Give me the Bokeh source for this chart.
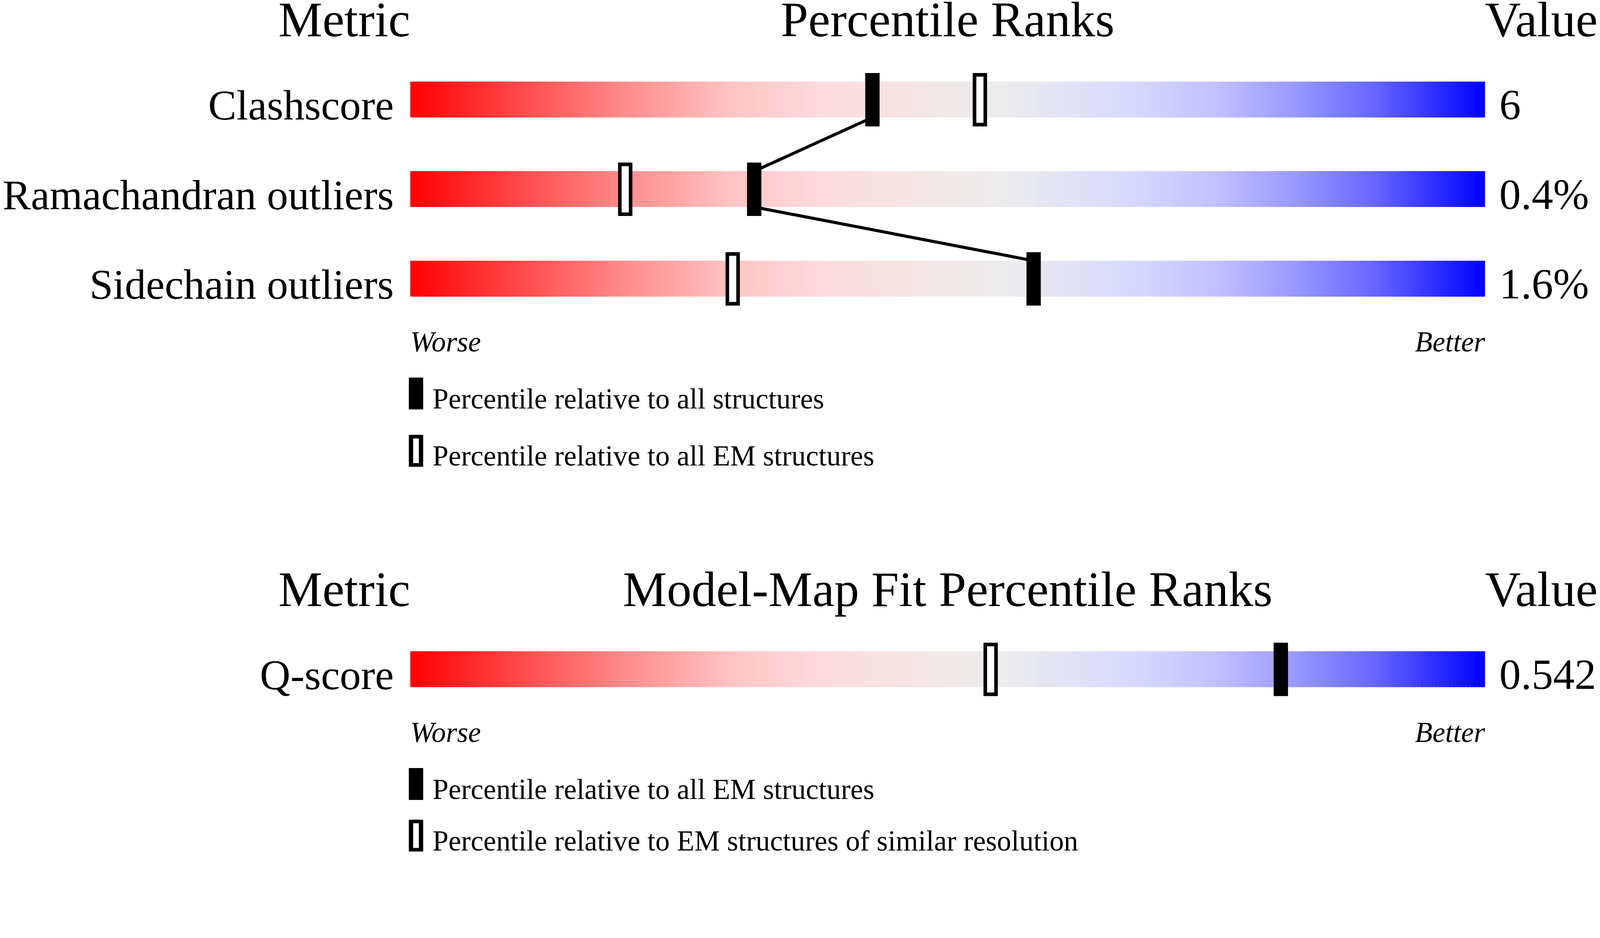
import numpy as np
from bokeh.plotting import figure
from bokeh.models import Range1d
from bokeh.core.properties import value
from bokeh.embed import file_html
from bokeh.resources import INLINE

# --- data -------------------------------------------------------------
metrics_geom = ["Clashscore", "Ramachandran outliers", "Sidechain outliers"]
values_geom = ["6", "0.4%", "1.6%"]
pct_all = [43, 32, 58]          # percentile vs all structures (filled)
pct_all_em = [53, 20, 30]       # percentile vs all EM structures (open)

metrics_fit = ["Q-score"]
values_fit = ["0.542"]
pct_fit_all_em = [81]           # percentile vs all EM structures (filled)
pct_fit_similar = [54]          # percentile vs EM structures of similar resolution (open)

titles = ["Percentile Ranks", "Model-Map Fit Percentile Ranks"]
legend_geom = ["Percentile relative to all structures",
               "Percentile relative to all EM structures"]
legend_fit = ["Percentile relative to all EM structures",
              "Percentile relative to EM structures of similar resolution"]

# --- layout (lengths below are in screenshot pixels) ------------------
S = 1.09                 # screenshot pixels per CSS pixel
W = int(4485 / S) - 16
H = int(2402 / S) - 16
PX = 29.99               # screenshot pixels per percentile point
XB = 1153                # screenshot x of the 0th percentile
FONT = value("Liberation Serif")
BASE_FIX = 0.3           # bokeh draws the alphabetic baseline a bit low

STOPS = [(0.00, (255, 0, 0)), (0.10, (255, 72, 72)), (0.20, (255, 140, 140)),
         (0.30, (255, 196, 196)), (0.38, (254, 218, 220)), (0.48, (244, 230, 230)),
         (0.55, (236, 236, 236)), (0.62, (225, 225, 248)), (0.68, (214, 214, 255)),
         (0.75, (192, 192, 255)), (0.82, (155, 155, 255)), (0.90, (100, 100, 255)),
         (1.00, (0, 0, 255))]


def grad(f):
    for (f0, c0), (f1, c1) in zip(STOPS, STOPS[1:]):
        if f <= f1:
            t = (f - f0) / (f1 - f0)
            return "#%02x%02x%02x" % tuple(int(round(a + (b - a) * t)) for a, b in zip(c0, c1))
    return "#0000ff"


x_start = (8 * S - XB) / PX
x_end = ((W + 8) * S - XB) / PX
p = figure(width=W, height=H, x_range=Range1d(x_start, x_end),
           y_range=Range1d((H + 8) * S, 8 * S), output_backend="svg",
           toolbar_location=None, min_border=0)
p.axis.visible = False
p.grid.visible = False
p.outline_line_color = None


def txt(x, y, s, size, align="left", style="normal"):
    p.text(x=[x], y=[y - BASE_FIX * size], text=[s], text_font=FONT,
           text_font_size=value("%.1fpx" % (size / S)),
           text_align=align, text_baseline="alphabetic", text_font_style=style,
           text_color="black")


def legend_key(y_top, hollow):
    lx0, lx1 = -4 / PX, 36 / PX
    p.quad(left=[lx0], right=[lx1], top=[y_top], bottom=[y_top + 89],
           fill_color="black", line_color=None)
    if hollow:
        p.quad(left=[lx0 + 12 / PX], right=[lx1 - 12 / PX], top=[y_top + 10],
               bottom=[y_top + 79], fill_color="white", line_color=None)


def panel(top, title, metrics, vals, filled, opened, legend, connect, last_lift=0):
    n_slices = 300
    step = 100 / n_slices
    lefts = np.arange(n_slices) * step
    rights = np.minimum(lefts + step * 1.6, 100)
    cols = [grad((l + step / 2) / 100) for l in lefts]

    txt(0, top + 104, "Metric", 138, "right")
    txt(50, top + 104, title, 138, "center")
    txt(100, top + 104, "Value", 138, "left")

    bar_tops = [top + 236 + 250 * i for i in range(len(metrics))]
    bar_h = 100

    for bt, m, v in zip(bar_tops, metrics, vals):
        p.quad(left=lefts, right=rights, top=[bt] * n_slices, bottom=[bt + bar_h] * n_slices,
               fill_color=cols, line_color=None)
        txt(-46 / PX, bt + bar_h + 1, m, 118, "right")
        txt(100 + 40 / PX, bt + bar_h + 1, v, 120, "left")

    if connect:
        for i in range(len(metrics) - 1):
            p.line([filled[i], filled[i + 1]], [bar_tops[i] + bar_h, bar_tops[i + 1]],
                   line_color="black", line_width=8.5 / S)

    hw = 20 / PX
    # open markers
    for bt, pc in zip(bar_tops, opened):
        p.quad(left=[pc - hw], right=[pc + hw], top=[bt - 24], bottom=[bt + bar_h + 25],
               fill_color="black", line_color=None)
        p.quad(left=[pc - hw + 10 / PX], right=[pc + hw - 10 / PX], top=[bt - 14],
               bottom=[bt + bar_h + 15], fill_color="white", line_color=None)
    # filled markers
    for bt, pc in zip(bar_tops, filled):
        p.quad(left=[pc - hw], right=[pc + hw], top=[bt - 24], bottom=[bt + bar_h + 25],
               fill_color="black", line_color=None)

    last = bar_tops[-1] + bar_h
    txt(0, last + 150, "Worse", 80, "left", "italic")
    txt(100, last + 150, "Better", 80, "right", "italic")

    # legend
    legend_key(last + 226, False)
    txt(62 / PX, last + 310, legend[0], 80, "left")
    legend_key(last + 386 - last_lift, True)
    txt(62 / PX, last + 469 - last_lift, legend[1], 80, "left")


panel(0, titles[0], metrics_geom, values_geom, pct_all, pct_all_em, legend_geom, True)
panel(1590, titles[1], metrics_fit, values_fit, pct_fit_all_em, pct_fit_similar, legend_fit,
      False, last_lift=16)

open("out.html", "w").write(file_html(p, INLINE))
